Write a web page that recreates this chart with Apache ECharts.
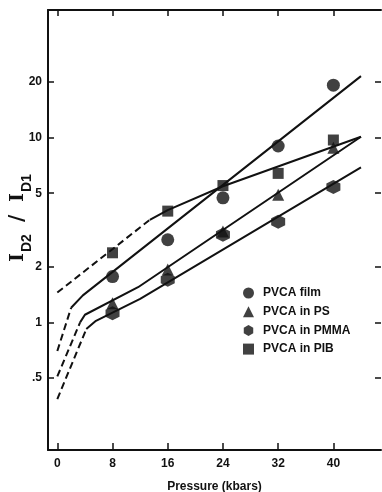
<!DOCTYPE html>
<html><head><meta charset="utf-8">
<script src="https://cdn.jsdelivr.net/npm/echarts@6/dist/echarts.min.js"></script>
<style>html,body{margin:0;padding:0;background:#fff}#c{width:382px;height:492px}</style>
</head><body><div id="c"></div>
<script>
// ---- data ----
const xTicks = [0, 8, 16, 24, 32, 40];
const yTickValues = [0.5, 1, 2, 5, 10, 20];
const yTickLabels = ['.5', '1', '2', '5', '10', '20'];
const seriesNames = ['PVCA film', 'PVCA in PS', 'PVCA in PMMA', 'PVCA in PIB'];
const pressures = [8, 16, 24, 32, 40];
const filmValues = [1.77, 2.8, 4.72, 9.0, 19.2];
const psValues = [1.27, 1.93, 3.1, 4.9, 8.8];
const pmmaValues = [1.12, 1.70, 2.98, 3.5, 5.4];
const pibValues = [2.38, 4.0, 5.5, 6.4, 9.7];
// fitted curves: [pressure, ratio]
const filmDashed = [[0, 0.70], [2.0, 1.2]];
const filmSolid = [[2.0, 1.2], [3.7, 1.40], [44, 21.5]];
const psDashed = [[0, 0.51], [3.3, 1.0]];
const psSolid = [[3.3, 1.0], [4.0, 1.1], [11.7, 1.55], [44, 10.1]];
const pmmaDashed = [[0, 0.385], [4.2, 0.92]];
const pmmaSolid = [[4.2, 0.92], [5.6, 1.02], [12, 1.34], [44, 6.9]];
const pibDashed = [[0, 1.45], [13.4, 3.59]];
const pibSolid = [[13.4, 3.59], [16, 4.05], [24, 5.45], [44, 10.1]];
const yTitleParts = ['I', 'D2', '/', 'I', 'D1'];

const INK = '#111';
const FONT = 'Liberation Sans';
const hexPath = 'path://M50,0 L93,25 L93,75 L50,100 L7,75 L7,25 Z';
const symbols = ['circle', 'triangle', hexPath, 'rect'];
const symbolSizes = [13, 12, 14, 11];
const valueSets = [filmValues, psValues, pmmaValues, pibValues];
const fits = [[filmDashed, filmSolid], [psDashed, psSolid], [pmmaDashed, pmmaSolid], [pibDashed, pibSolid]];

const series = [];
fits.forEach(([d, s]) => {
  series.push({type: 'line', data: d, showSymbol: false, silent: true, z: 2,
    lineStyle: {color: INK, width: 2, type: [7, 4]}});
  series.push({type: 'line', data: s, showSymbol: false, silent: true, z: 2,
    lineStyle: {color: INK, width: 2}});
});
valueSets.forEach((vals, i) => {
  series.push({type: 'scatter', name: seriesNames[i], symbol: symbols[i], symbolSize: symbolSizes[i],
    z: 5, itemStyle: {color: INK}, data: pressures.map((p, j) => [p, vals[j]])});
});

// rotated y-axis title I_D2 / I_D1 (reads bottom to top)
function tpart(text, along, across, size, family) {
  return {type: 'text', x: along, y: across,
    style: {text: text, fill: INK, font: 'bold ' + size + 'px "' + family + '"',
      align: 'left', verticalAlign: 'middle', textAlign: 'left', textVerticalAlign: 'middle'}};
}
const yTitle = {
  type: 'group', x: 0, y: 262, rotation: Math.PI / 2,
  children: [
    tpart(yTitleParts[0], 0, 18, 19, 'DejaVu Serif'),
    tpart(yTitleParts[1], 10, 27, 14, FONT),
    tpart(yTitleParts[2], 40, 18, 20, 'DejaVu Serif'),
    tpart(yTitleParts[3], 60, 18, 19, 'DejaVu Serif'),
    tpart(yTitleParts[4], 70, 27, 14, FONT)
  ]
};

const chart = echarts.init(document.getElementById('c'), null, {renderer: 'canvas'});
chart.setOption({
  animation: false,
  backgroundColor: '#fff',
  grid: {left: 48, right: 1, top: 10, bottom: 42, containLabel: false, outerBoundsMode: 'none'},
  graphic: [yTitle],
  legend: {
    orient: 'vertical', left: 238, top: 282, itemWidth: 11, itemHeight: 11, itemGap: 6.7,
    data: seriesNames,
    textStyle: {fontSize: 12, fontWeight: 'bold', color: INK, fontFamily: FONT, padding: [0, 0, 0, 4]}
  },
  xAxis: [{
    type: 'value', min: -1.35, max: 46.9, position: 'bottom',
    name: 'Pressure (kbars)', nameLocation: 'middle', nameGap: 31,
    nameTextStyle: {fontSize: 12, fontWeight: 'bold', color: INK, fontFamily: FONT},
    axisLine: {show: true, onZero: false, lineStyle: {color: INK, width: 2}},
    axisTick: {show: true, inside: true, length: 7, lineStyle: {color: INK, width: 1.5}, customValues: xTicks},
    axisLabel: {customValues: xTicks, margin: 8, fontSize: 12, fontWeight: 'bold', color: INK, fontFamily: FONT},
    splitLine: {show: false}
  }, {
    type: 'value', min: -1.35, max: 46.9, position: 'top',
    axisLine: {show: true, onZero: false, lineStyle: {color: INK, width: 2}},
    axisTick: {show: true, inside: true, length: 6, lineStyle: {color: INK, width: 1.5}, customValues: xTicks},
    axisLabel: {show: false}, splitLine: {show: false}
  }],
  yAxis: [{
    type: 'log', logBase: 10, min: 0.204, max: 49, position: 'left',
    axisLine: {show: true, onZero: false, lineStyle: {color: INK, width: 2}},
    axisTick: {show: true, inside: true, length: 6, lineStyle: {color: INK, width: 1.5}, customValues: yTickValues},
    axisLabel: {customValues: yTickValues, margin: 6, fontSize: 12, fontWeight: 'bold', color: INK, fontFamily: FONT,
      formatter: v => yTickLabels[yTickValues.findIndex(t => Math.abs(t - v) < 1e-6)] ?? String(v)},
    splitLine: {show: false}, minorTick: {show: false}
  }, {
    type: 'log', logBase: 10, min: 0.204, max: 49, position: 'right',
    axisLine: {show: true, onZero: false, lineStyle: {color: 'rgba(0,0,0,0)', width: 1}},
    axisTick: {show: true, inside: true, length: 6, lineStyle: {color: INK, width: 1.5}, customValues: yTickValues},
    axisLabel: {show: false}, splitLine: {show: false}
  }],
  series: series
});
</script>
</body></html>
